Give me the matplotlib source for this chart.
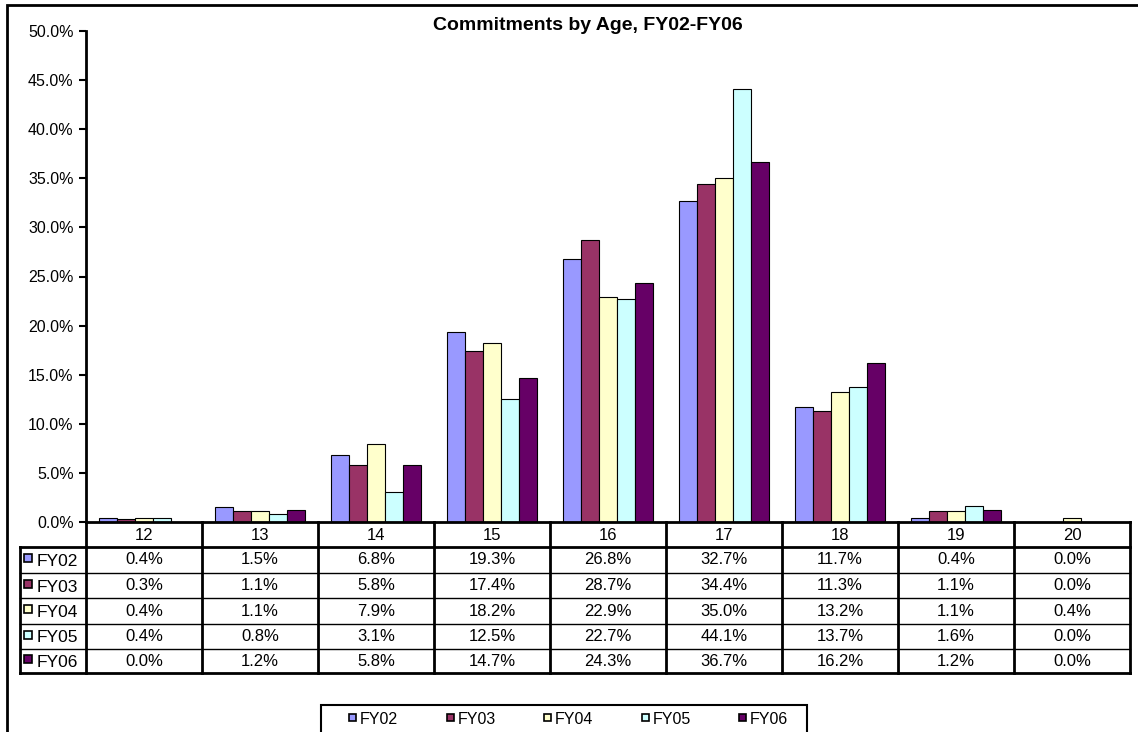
import matplotlib.pyplot as plt
from matplotlib.patches import Rectangle
from matplotlib.lines import Line2D
import numpy as np

plt.rcParams['font.family'] = ['Liberation Sans', 'DejaVu Sans']

ages = ['12', '13', '14', '15', '16', '17', '18', '19', '20']
series = ['FY02', 'FY03', 'FY04', 'FY05', 'FY06']
fy02 = [0.4, 1.5, 6.8, 19.3, 26.8, 32.7, 11.7, 0.4, 0.0]
fy03 = [0.3, 1.1, 5.8, 17.4, 28.7, 34.4, 11.3, 1.1, 0.0]
fy04 = [0.4, 1.1, 7.9, 18.2, 22.9, 35.0, 13.2, 1.1, 0.4]
fy05 = [0.4, 0.8, 3.1, 12.5, 22.7, 44.1, 13.7, 1.6, 0.0]
fy06 = [0.0, 1.2, 5.8, 14.7, 24.3, 36.7, 16.2, 1.2, 0.0]
values = [fy02, fy03, fy04, fy05, fy06]
colors = ['#9999FF', '#993366', '#FFFFCC', '#CCFFFF', '#660066']

W, H = 1138, 732
fig = plt.figure(figsize=(W / 100, H / 100), dpi=100)


def fx(px):
    return px / W


def fy(py):
    return 1 - py / H


# outer chart border
fig.patches.append(Rectangle((fx(7), fy(745)), fx(1145) - fx(7), fy(5) - fy(745),
                             transform=fig.transFigure, fill=False, lw=2, ec='black'))

ax_l, ax_r, ax_t, ax_b = 86, 1130, 31, 522
ax = fig.add_axes([fx(ax_l), fy(ax_b), fx(ax_r) - fx(ax_l), fy(ax_t) - fy(ax_b)])

x = np.arange(len(ages))
bw = 0.155
for i, (name, vals) in enumerate(zip(series, values)):
    ax.bar(x + (i - 2) * bw, vals, bw, color=colors[i], edgecolor='black', lw=0.8, label=name)

ax.set_xlim(-0.5, len(ages) - 0.5)
ax.set_ylim(0, 50)
ax.set_yticks(np.arange(0, 51, 5))
ax.set_yticklabels([f'{v:.1f}%' for v in np.arange(0, 51, 5)], fontsize=11.5)
ax.set_xticks([])
for s in ['top', 'right', 'bottom']:
    ax.spines[s].set_visible(False)
ax.spines['left'].set_linewidth(2)
ax.tick_params(axis='y', direction='out', length=5, width=1.5, pad=4)

fig.text(fx(588), fy(26), 'Commitments by Age, FY02-FY06', ha='center', va='center',
         fontsize=14, fontweight='bold')

# data table below the axis
col_w = (ax_r - ax_l) / len(ages)
row_y = [522, 547, 573, 598, 624, 649, 673]
tbl_l = 20


def hline(x0, x1, y, lw):
    fig.lines.append(Line2D([fx(x0), fx(x1)], [fy(y), fy(y)], transform=fig.transFigure,
                            color='black', lw=lw))


def vline(x0, y0, y1, lw):
    fig.lines.append(Line2D([fx(x0), fx(x0)], [fy(y0), fy(y1)], transform=fig.transFigure,
                            color='black', lw=lw))


hline(ax_l, ax_r, row_y[0], 2)
hline(tbl_l, ax_r, row_y[1], 2)
for y in row_y[2:-1]:
    hline(tbl_l, ax_r, y, 1)
hline(tbl_l, ax_r, row_y[-1], 2)
vline(tbl_l, row_y[1], row_y[-1], 2)
for j in range(len(ages) + 1):
    vline(ax_l + j * col_w, row_y[0], row_y[-1], 2)

for j, age in enumerate(ages):
    cx = ax_l + (j + 0.5) * col_w
    fig.text(fx(cx), fy((row_y[0] + row_y[1]) / 2 + 1), age, ha='center', va='center', fontsize=12)
    for i, vals in enumerate(values):
        cy = (row_y[i + 1] + row_y[i + 2]) / 2
        fig.text(fx(cx), fy(cy), f'{vals[j]:.1f}%', ha='center', va='center', fontsize=12)

for i, name in enumerate(series):
    cy = (row_y[i + 1] + row_y[i + 2]) / 2
    fig.patches.append(Rectangle((fx(24), fy(cy + 2)), fx(8), 8 / H, transform=fig.transFigure,
                                 fc=colors[i], ec='black', lw=1.2))
    fig.text(fx(37), fy(cy + 1.5), name, ha='left', va='center', fontsize=12.5)

# legend box at the bottom
fig.patches.append(Rectangle((fx(321), fy(734)), fx(807) - fx(321), fy(705) - fy(734),
                             transform=fig.transFigure, fill=False, ec='black', lw=1.5))
for i, name in enumerate(series):
    lx = 349 + i * 97.5
    fig.patches.append(Rectangle((fx(lx), fy(721)), fx(7), 7 / H, transform=fig.transFigure,
                                 fc=colors[i], ec='black', lw=1.2))
    fig.text(fx(lx + 11), fy(719), name, ha='left', va='center', fontsize=11.5)

fig.savefig('out.png', dpi=100)
